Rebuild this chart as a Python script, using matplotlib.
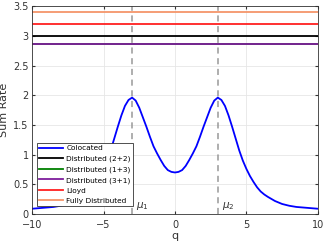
import numpy as np
import matplotlib
matplotlib.use("Agg")
import matplotlib.pyplot as plt

# values (right half read, left half mirrored)
q_right = [0, 0.25, 0.5, 0.75, 1, 1.25, 1.5, 1.75, 2, 2.25, 2.5, 2.75, 3, 3.25, 3.5, 3.75,
           4, 4.25, 4.5, 4.75, 5, 5.25, 5.5, 5.75, 6, 6.25, 6.5, 7, 7.5, 8, 8.5, 9, 9.5, 10]
rate_right = [0.70, 0.71, 0.74, 0.81, 0.91, 1.02, 1.14, 1.30, 1.47, 1.63, 1.79, 1.91, 1.96,
              1.92, 1.82, 1.66, 1.47, 1.27, 1.07, 0.90, 0.76, 0.64, 0.54, 0.45, 0.38, 0.33,
              0.29, 0.22, 0.17, 0.14, 0.12, 0.11, 0.10, 0.09]
q = [-v for v in q_right[:0:-1]] + q_right
colocated = rate_right[:0:-1] + rate_right

dist_22 = 2.99
dist_13 = 2.87
dist_31 = 2.87
lloyd = 3.20
fully = 3.40
mu = [-3, 3]
mu_labels = [r'$\mu_1$', r'$\mu_2$']

plt.rcParams['font.family'] = 'DejaVu Sans'
fig = plt.figure(figsize=(3.24, 2.43), dpi=100)
ax = fig.add_axes([0.099, 0.119, 0.882, 0.856])

lw = 1.3
ax.plot(q, colocated, color='#0000FF', lw=lw, label='Colocated')
ax.axhline(dist_22, color='black', lw=lw, label='Distributed (2+2)')
ax.axhline(dist_13, color='#008000', lw=lw, label='Distributed (1+3)')
ax.axhline(dist_31, color='#7E1E9C', lw=lw, label='Distributed (3+1)')
ax.axhline(lloyd, color='#FF2020', lw=lw, label='Lloyd')
ax.axhline(fully, color='#F5956A', lw=lw, label='Fully Distributed')

for m, lab in zip(mu, mu_labels):
    ax.axvline(m, color='#999999', ls=(0, (4, 3)), lw=1.1, zorder=1)
    ax.text(m + 0.3, 0.04, lab, fontsize=7.5, color='#333333', va='bottom', ha='left')

ax.set_xlim(-10, 10)
ax.set_ylim(0, 3.5)
ax.set_xticks([-10, -5, 0, 5, 10])
ax.set_yticks(np.arange(0, 3.51, 0.5))
ax.set_yticklabels(['0', '0.5', '1', '1.5', '2', '2.5', '3', '3.5'])
ax.tick_params(direction='in', length=2.5, labelsize=7, top=True, right=True, colors='#333333')
ax.tick_params(axis='x', pad=4)
ax.tick_params(axis='y', pad=2.5)
ax.grid(True, color='#E6E6E6', lw=0.6)
ax.set_axisbelow(True)
for s in ax.spines.values():
    s.set_color('#333333')
    s.set_linewidth(0.6)
ax.set_xlabel('q', fontsize=8, labelpad=1, color='#333333')
ax.set_ylabel('Sum Rate', fontsize=8, labelpad=3, color='#333333')

leg = ax.legend(loc='lower left', bbox_to_anchor=(0.017, 0.038), fontsize=5.3, handlelength=3.3,
                handletextpad=0.4, labelspacing=0.55, borderpad=0.3, borderaxespad=0,
                fancybox=False, framealpha=1, edgecolor='#333333')
leg.get_frame().set_linewidth(0.6)

fig.savefig('out.png', dpi=100)
